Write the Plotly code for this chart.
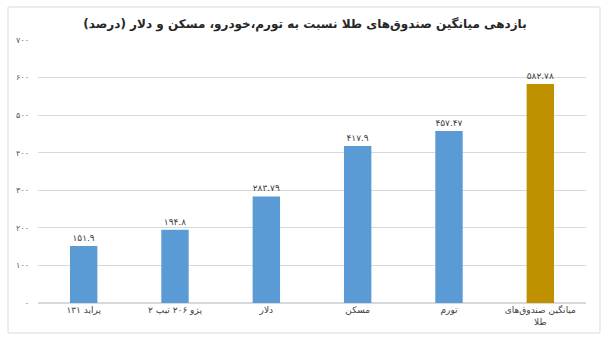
import plotly.graph_objects as go

categories = ["پراید ۱۳۱", "پژو ۲۰۶ تیپ ۲", "دلار", "مسکن", "تورم", "میانگین صندوق‌های<br>طلا"]
values = [151.9, 194.8, 283.79, 417.9, 457.47, 582.78]
value_labels = ["۱۵۱.۹", "۱۹۴.۸", "۲۸۳.۷۹", "۴۱۷.۹", "۴۵۷.۴۷", "۵۸۲.۷۸"]
tick_vals = [0, 100, 200, 300, 400, 500, 600, 700]
tick_text = ["۰", "۱۰۰", "۲۰۰", "۳۰۰", "۴۰۰", "۵۰۰", "۶۰۰", "۷۰۰"]
title = "بازدهی میانگین صندوق‌های طلا نسبت به تورم،خودرو، مسکن و دلار (درصد)"

colors = ["#5B9BD5"] * 5 + ["#BF9000"]

fig = go.Figure(go.Bar(
    x=categories, y=values, marker_color=colors, marker_line_width=0,
    text=value_labels, textposition="outside", cliponaxis=False,
    textfont=dict(family="DejaVu Sans", size=9, color="#404040"),
    width=0.3,
))

fig.update_layout(
    width=610, height=343,
    margin=dict(l=38, r=24, t=40, b=40),
    paper_bgcolor="white", plot_bgcolor="white",
    showlegend=False,
    font=dict(family="DejaVu Sans", color="#404040"),
    title=dict(text="<b>" + title + "</b>", x=0.5, xanchor="center", y=0.93, yanchor="middle",
               font=dict(family="DejaVu Sans", size=12, color="#262626")),
    bargap=0.7,
    xaxis=dict(showgrid=False, showline=False, ticks="", tickfont=dict(size=9, color="#404040")),
    yaxis=dict(range=[0, 700], tickvals=tick_vals, ticktext=tick_text, showgrid=True,
               gridcolor="#D9D9D9", gridwidth=1, zeroline=True, zerolinecolor="#D9D9D9",
               showline=False, ticks="", tickfont=dict(size=8, color="#595959"), ticklabelstandoff=8),
    shapes=[dict(type="rect", xref="paper", yref="paper", x0=-0.0547, x1=1.0255, y0=-0.114, y1=1.1255,
                 line=dict(color="#D9D9D9", width=1), fillcolor="rgba(0,0,0,0)", layer="below")],
)

fig.write_html("out.html")
